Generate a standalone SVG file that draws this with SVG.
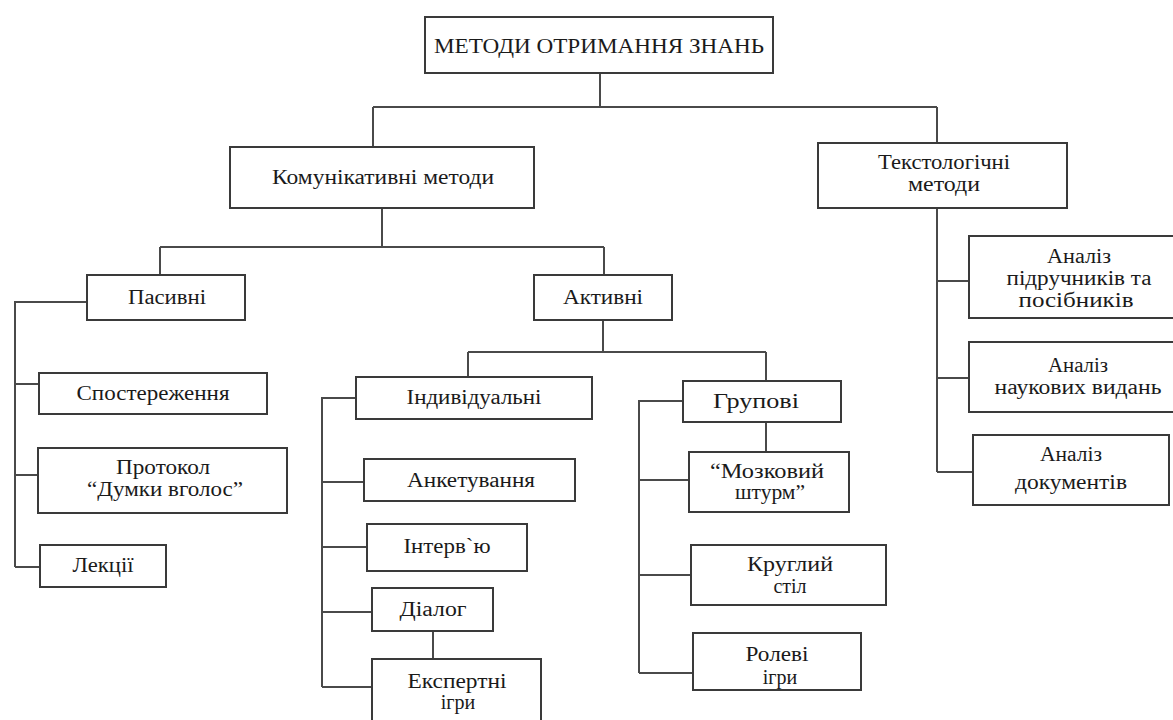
<svg xmlns="http://www.w3.org/2000/svg" width="1173" height="720" viewBox="0 0 1173 720">
<style>
.box{fill:#ffffff;stroke:#3a3a3a;stroke-width:2}
.ln{fill:none;stroke:#4a4a4a;stroke-width:2}
.tx{font-family:'Liberation Serif','DejaVu Serif',serif;font-size:20px;fill:#1a1a1a;text-anchor:middle}
</style>
<rect fill="#ffffff" x="0" y="0" width="1173" height="720"/>
<g id="connectors">
<path class="ln" d="M600 73V107M373 107H937M373 107V147M937 107V143"/>
<path class="ln" d="M382 208V247M160 247H604M160 247V275M604 247V275"/>
<path class="ln" d="M87 302H15V567M15 384H39M15 475H38M15 567H40"/>
<path class="ln" d="M603 320V352M468 352H766M468 352V377M766 352V381"/>
<path class="ln" d="M356 398H322V687M322 482H364M322 547H367M322 612H372M322 687H372M433 631V659"/>
<path class="ln" d="M683 401H639V673M639 480H689M639 575H691M639 673H693M766 422V452"/>
<path class="ln" d="M937 208V472M937 281H969M937 378H969M937 472H973"/>
</g>
<g class="tx">
<g id="n-root"><rect class="box" x="425" y="17" width="348" height="56"/><text x="599" y="53" font-size="22" textLength="330" lengthAdjust="spacingAndGlyphs">МЕТОДИ ОТРИМАННЯ ЗНАНЬ</text></g>
<g id="n-komunikatyvni"><rect class="box" x="230" y="147" width="304" height="61"/><text x="383" y="184" textLength="222" lengthAdjust="spacingAndGlyphs">Комунікативні методи</text></g>
<g id="n-tekstologichni"><rect class="box" x="818" y="143" width="249" height="65"/><text x="944" y="169" textLength="132" lengthAdjust="spacingAndGlyphs">Текстологічні</text><text x="944" y="191" textLength="72" lengthAdjust="spacingAndGlyphs">методи</text></g>
<g id="n-pasyvni"><rect class="box" x="87" y="275" width="158" height="45"/><text x="167" y="304" textLength="78" lengthAdjust="spacingAndGlyphs">Пасивні</text></g>
<g id="n-aktyvni"><rect class="box" x="534" y="275" width="138" height="45"/><text x="603" y="304" textLength="80" lengthAdjust="spacingAndGlyphs">Активні</text></g>
<g id="n-sposterezhennia"><rect class="box" x="39" y="373" width="228" height="41"/><text x="153" y="400" textLength="153" lengthAdjust="spacingAndGlyphs">Спостереження</text></g>
<g id="n-protokol"><rect class="box" x="38" y="448" width="249" height="65"/><text x="163" y="474" textLength="94" lengthAdjust="spacingAndGlyphs">Протокол</text><text x="165" y="496" textLength="156" lengthAdjust="spacingAndGlyphs">“Думки вголос”</text></g>
<g id="n-lektsii"><rect class="box" x="40" y="545" width="126" height="42"/><text x="103" y="572" textLength="61" lengthAdjust="spacingAndGlyphs">Лекції</text></g>
<g id="n-indyvidualni"><rect class="box" x="356" y="377" width="236" height="42"/><text x="474" y="404" textLength="135" lengthAdjust="spacingAndGlyphs">Індивідуальні</text></g>
<g id="n-anketuvannia"><rect class="box" x="364" y="459" width="211" height="42"/><text x="471" y="487" textLength="128" lengthAdjust="spacingAndGlyphs">Анкетування</text></g>
<g id="n-interviu"><rect class="box" x="367" y="524" width="160" height="47"/><text x="447" y="553" textLength="87" lengthAdjust="spacingAndGlyphs">Інтерв`ю</text></g>
<g id="n-dialoh"><rect class="box" x="372" y="588" width="121" height="43"/><text x="433" y="616" textLength="67" lengthAdjust="spacingAndGlyphs">Діалог</text></g>
<g id="n-ekspertni"><rect class="box" x="372" y="659" width="169" height="75"/><text x="457" y="688" textLength="99" lengthAdjust="spacingAndGlyphs">Експертні</text><text x="458" y="709">ігри</text></g>
<g id="n-hrupovi"><rect class="box" x="683" y="381" width="158" height="41"/><text x="756" y="408" textLength="86" lengthAdjust="spacingAndGlyphs">Групові</text></g>
<g id="n-mozkovyi"><rect class="box" x="689" y="452" width="160" height="60"/><text x="767" y="478" textLength="114" lengthAdjust="spacingAndGlyphs">“Мозковий</text><text x="770" y="499" textLength="70" lengthAdjust="spacingAndGlyphs">штурм”</text></g>
<g id="n-kruhlyi"><rect class="box" x="691" y="545" width="195" height="60"/><text x="790" y="571" textLength="86" lengthAdjust="spacingAndGlyphs">Круглий</text><text x="790" y="593">стіл</text></g>
<g id="n-rolevi"><rect class="box" x="693" y="633" width="168" height="57"/><text x="777" y="661" textLength="63" lengthAdjust="spacingAndGlyphs">Ролеві</text><text x="780" y="684">ігри</text></g>
<g id="n-analiz-pidruchnykiv"><rect class="box" x="969" y="236" width="210" height="82"/><text x="1079" y="263" textLength="64" lengthAdjust="spacingAndGlyphs">Аналіз</text><text x="1079" y="285" textLength="145" lengthAdjust="spacingAndGlyphs">підручників та</text><text x="1076" y="307" textLength="115" lengthAdjust="spacingAndGlyphs">посібників</text></g>
<g id="n-analiz-naukovykh"><rect class="box" x="969" y="342" width="210" height="70"/><text x="1078" y="372" textLength="60" lengthAdjust="spacingAndGlyphs">Аналіз</text><text x="1078" y="394" textLength="167" lengthAdjust="spacingAndGlyphs">наукових видань</text></g>
<g id="n-analiz-dokumentiv"><rect class="box" x="973" y="435" width="196" height="70"/><text x="1071" y="461" textLength="62" lengthAdjust="spacingAndGlyphs">Аналіз</text><text x="1071" y="489" textLength="112" lengthAdjust="spacingAndGlyphs">документів</text></g>
</g>
</svg>
